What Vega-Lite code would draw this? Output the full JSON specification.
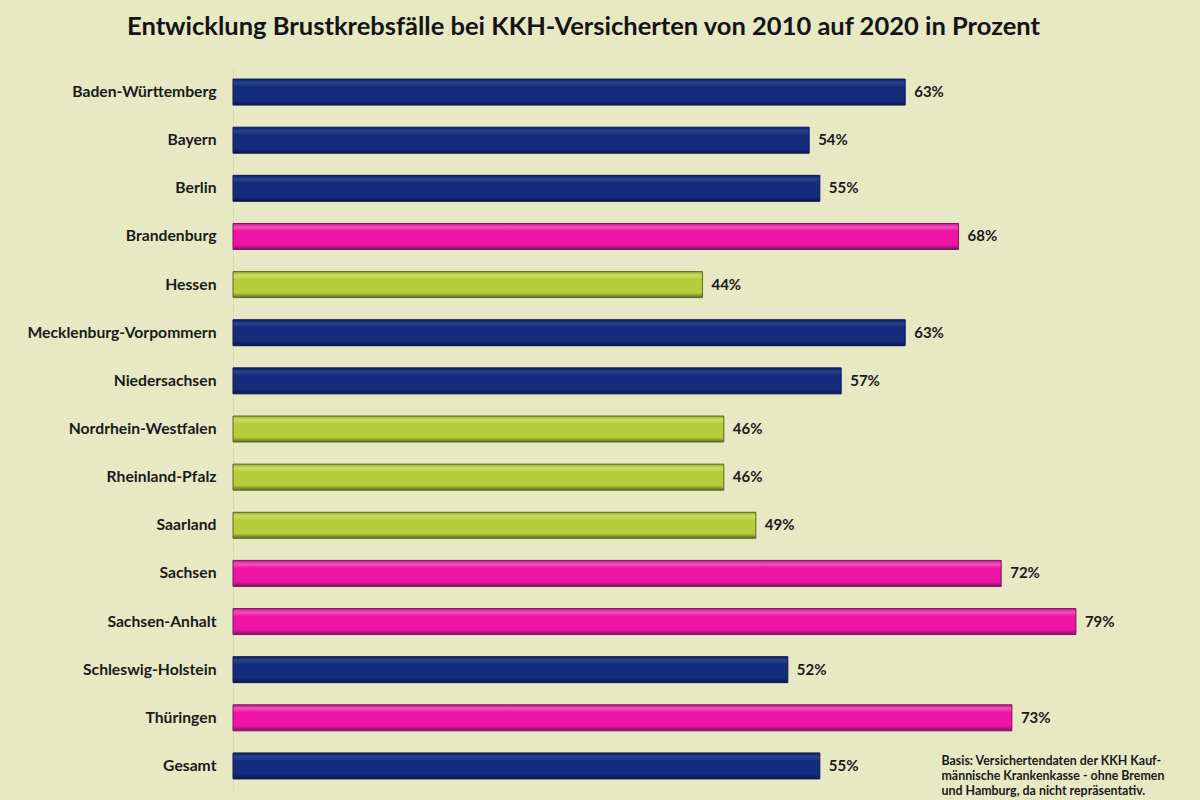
{
  "$schema": "https://vega.github.io/schema/vega-lite/v6.json",
  "width": 967,
  "height": 722,
  "autosize": "none",
  "padding": {"left": 233, "top": 68, "right": 0, "bottom": 10},
  "background": "#e6e9c3",
  "title": {
    "text": "Entwicklung Brustkrebsfälle bei KKH-Versicherten von 2010 auf 2020 in Prozent",
    "font": "Lato",
    "fontSize": 25.5,
    "fontWeight": "bold",
    "color": "#141414",
    "anchor": "middle",
    "dx": -133,
    "offset": 28
  },
  "datasets": {
    "laender": [
      {"Land": "Baden-Württemberg", "Wert": 0.63, "Stufe": "mittel"},
      {"Land": "Bayern", "Wert": 0.54, "Stufe": "mittel"},
      {"Land": "Berlin", "Wert": 0.55, "Stufe": "mittel"},
      {"Land": "Brandenburg", "Wert": 0.68, "Stufe": "hoch"},
      {"Land": "Hessen", "Wert": 0.44, "Stufe": "niedrig"},
      {"Land": "Mecklenburg-Vorpommern", "Wert": 0.63, "Stufe": "mittel"},
      {"Land": "Niedersachsen", "Wert": 0.57, "Stufe": "mittel"},
      {"Land": "Nordrhein-Westfalen", "Wert": 0.46, "Stufe": "niedrig"},
      {"Land": "Rheinland-Pfalz", "Wert": 0.46, "Stufe": "niedrig"},
      {"Land": "Saarland", "Wert": 0.49, "Stufe": "niedrig"},
      {"Land": "Sachsen", "Wert": 0.72, "Stufe": "hoch"},
      {"Land": "Sachsen-Anhalt", "Wert": 0.79, "Stufe": "hoch"},
      {"Land": "Schleswig-Holstein", "Wert": 0.52, "Stufe": "mittel"},
      {"Land": "Thüringen", "Wert": 0.73, "Stufe": "hoch"},
      {"Land": "Gesamt", "Wert": 0.55, "Stufe": "mittel"}
    ],
    "hinweis": [
      {"Land": "Gesamt", "Wert": 0.664}
    ]
  },
  "data": {"name": "laender"},
  "encoding": {
    "y": {
      "field": "Land",
      "type": "nominal",
      "sort": null,
      "scale": {
        "domain": [
          "Baden-Württemberg", "Bayern", "Berlin", "Brandenburg", "Hessen",
          "Mecklenburg-Vorpommern", "Niedersachsen", "Nordrhein-Westfalen",
          "Rheinland-Pfalz", "Saarland", "Sachsen", "Sachsen-Anhalt",
          "Schleswig-Holstein", "Thüringen", "Gesamt"
        ],
        "paddingInner": 0.46,
        "paddingOuter": 0.23
      },
      "axis": {
        "title": null,
        "ticks": false,
        "domainColor": "#d9dcb6",
        "labelFont": "Lato",
        "labelFontSize": 15.7,
        "labelFontWeight": "bold",
        "labelColor": "#1a1a1a",
        "labelPadding": 17,
        "labelLimit": 230
      }
    },
    "x": {
      "field": "Wert",
      "type": "quantitative",
      "scale": {"domain": [0, 0.9063], "nice": false},
      "axis": null
    }
  },
  "layer": [
    {
      "transform": [{"filter": "datum.Stufe === 'mittel'"}],
      "mark": {
        "type": "bar",
        "size": 26,
        "stroke": "#0d1a4f",
        "strokeWidth": 1,
        "fill": {
          "gradient": "linear", "x1": 0, "y1": 0, "x2": 0, "y2": 1,
          "stops": [
            {"offset": 0, "color": "#0d1d5e"},
            {"offset": 0.14, "color": "#2a4391"},
            {"offset": 0.3, "color": "#142c7d"},
            {"offset": 0.82, "color": "#142c7d"},
            {"offset": 1, "color": "#0a1647"}
          ]
        }
      }
    },
    {
      "transform": [{"filter": "datum.Stufe === 'hoch'"}],
      "mark": {
        "type": "bar",
        "size": 26,
        "stroke": "#7d1560",
        "strokeWidth": 1,
        "fill": {
          "gradient": "linear", "x1": 0, "y1": 0, "x2": 0, "y2": 1,
          "stops": [
            {"offset": 0, "color": "#c4128c"},
            {"offset": 0.14, "color": "#f552bd"},
            {"offset": 0.3, "color": "#ee14a6"},
            {"offset": 0.82, "color": "#ee14a6"},
            {"offset": 1, "color": "#7d1560"}
          ]
        }
      }
    },
    {
      "transform": [{"filter": "datum.Stufe === 'niedrig'"}],
      "mark": {
        "type": "bar",
        "size": 26,
        "stroke": "#5d6a22",
        "strokeWidth": 1,
        "fill": {
          "gradient": "linear", "x1": 0, "y1": 0, "x2": 0, "y2": 1,
          "stops": [
            {"offset": 0, "color": "#8fa530"},
            {"offset": 0.14, "color": "#cfe060"},
            {"offset": 0.3, "color": "#b5cd3c"},
            {"offset": 0.82, "color": "#b5cd3c"},
            {"offset": 1, "color": "#5d6a22"}
          ]
        }
      }
    },
    {
      "mark": {
        "type": "text",
        "align": "left",
        "baseline": "middle",
        "dx": 9,
        "font": "Lato",
        "fontSize": 15,
        "fontWeight": "bold",
        "color": "#1a1a1a"
      },
      "encoding": {
        "text": {"field": "Wert", "type": "quantitative", "format": ".0%"}
      }
    },
    {
      "data": {"name": "hinweis"},
      "mark": {
        "type": "text",
        "text": [
          "Basis: Versichertendaten der KKH Kauf-",
          "männische Krankenkasse - ohne Bremen",
          "und Hamburg, da nicht repräsentativ."
        ],
        "align": "left",
        "baseline": "top",
        "dy": -11,
        "lineHeight": 15,
        "font": "Lato",
        "fontSize": 12.4,
        "fontWeight": "bold",
        "color": "#1a1a1a"
      }
    }
  ],
  "config": {"view": {"stroke": null}}
}
